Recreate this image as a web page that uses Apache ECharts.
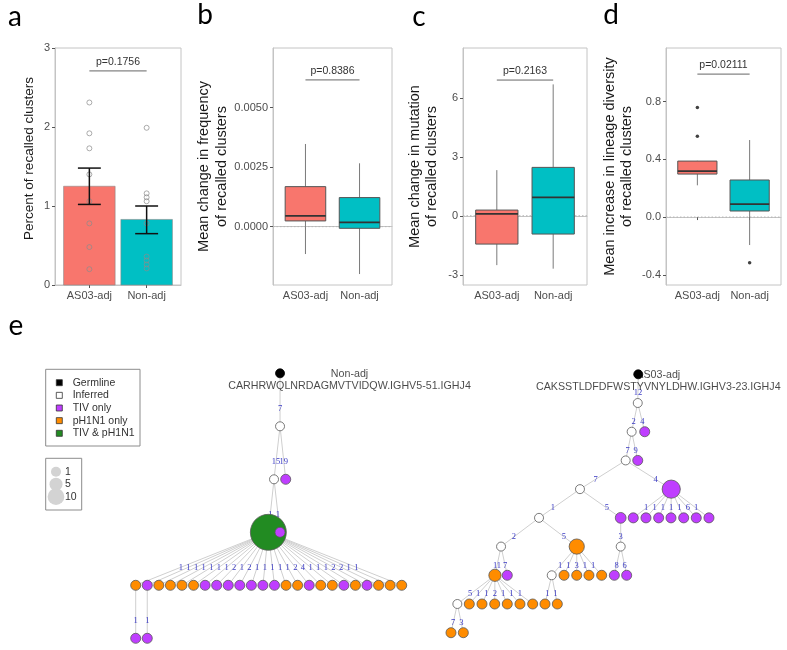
<!DOCTYPE html>
<html><head><meta charset="utf-8">
<script src="https://cdn.jsdelivr.net/npm/echarts@6/dist/echarts.min.js"></script>
<style>html,body{margin:0;padding:0;background:#fff}#c{width:787px;height:650px}</style>
</head><body><div id="c"></div>
<script>
// ---------- shared ----------
const groups = ['AS03-adj', 'Non-adj'];
const groupPos = [1, 2];
// ---------- panel a ----------
const aMeans = [1.25, 0.83];
const aErrLow = [1.02, 0.65];
const aErrHigh = [1.48, 1.00];
const aPtsAS03 = [2.31, 1.92, 1.73, 1.40, 1.06, 0.78, 0.48, 0.20];
const aPtsNon = [1.99, 1.16, 1.11, 1.06, 0.78, 0.36, 0.31, 0.26, 0.21];
const aTicks = [0, 1, 2, 3];
const aPText = 'p=0.1756', aPY = 2.71;
// ---------- panel b ----------  [min, q1, median, q3, max]
const bAS03 = [-0.00115, 0.00024, 0.00045, 0.00168, 0.00347];
const bNon = [-0.00199, -0.00007, 0.00018, 0.00122, 0.00266];
const bTicks = [0, 0.0025, 0.005];
const bPText = 'p=0.8386', bPY = 0.00616;
// ---------- panel c ----------
const cAS03 = [-2.51, -1.44, 0.10, 0.29, 2.32];
const cNon = [-2.69, -0.93, 0.94, 2.46, 6.68];
const cTicks = [-3, 0, 3, 6];
const cPText = 'p=0.2163', cPY = 6.9;
// ---------- panel d ----------
const dAS03 = [0.22, 0.298, 0.319, 0.388, 0.39];
const dNon = [-0.194, 0.042, 0.090, 0.257, 0.534];
const dOutAS03 = [0.76, 0.56];
const dOutNon = [-0.317];
const dTicks = [-0.4, 0, 0.4, 0.8];
const dPText = 'p=0.02111', dPY = 0.991;
// ---------- panel e : Non-adj tree ----------
const nonTitle = 'Non-adj';
const nonSeq = 'CARHRWQLNRDAGMVTVIDQW.IGHV5-51.IGHJ4';
const nonX = [12.48, 12.48, 11.96, 12.97, 11.47, 12.48,
  0, 1, 2, 3, 4, 5, 6, 7, 8, 9, 10, 11, 12, 13, 14, 15, 16, 17, 18, 19, 20, 21, 22, 23,
  0, 1];
const nonDepth = [0, 1, 2, 2, 3, 3,
  4, 4, 4, 4, 4, 4, 4, 4, 4, 4, 4, 4, 4, 4, 4, 4, 4, 4, 4, 4, 4, 4, 4, 4,
  5, 5];
const nonParent = [-1, 0, 1, 1, 2, 2,
  4, 4, 4, 4, 4, 4, 4, 4, 4, 4, 4, 4, 4, 4, 4, 4, 4, 4, 4, 4, 4, 4, 4, 4,
  6, 7];
const nonType = ['G', 'I', 'I', 'T', 'B', 'T',
  'P', 'T', 'P', 'P', 'P', 'P', 'T', 'T', 'T', 'T', 'T', 'T', 'T', 'P', 'P', 'T', 'P', 'P', 'T', 'P', 'T', 'P', 'P', 'P',
  'T', 'T'];
const nonCount = [0, 0, 0, 1, 36, 1,
  1, 1, 1, 1, 1, 1, 1, 1, 1, 1, 1, 1, 1, 1, 1, 1, 1, 1, 1, 1, 1, 1, 1, 1,
  1, 1];
const nonEdge = ['', '7', '15', '19', '1', '1',
  '1', '1', '1', '1', '1', '1', '1', '2', '1', '2', '1', '1', '1', '1', '1', '2', '4', '1', '1', '1', '2', '2', '1', '1',
  '1', '1'];
// ---------- panel e : AS03-adj tree ----------
const asTitle = 'AS03-adj';
const asSeq = 'CAKSSTLDFDFWSTYVNYLDHW.IGHV3-23.IGHJ4';
const asX = [15.04, 15.0, 14.51, 15.56, 14.03, 15.0, 10.36, 17.69, 7.07, 13.63,
  14.64, 15.66, 16.68, 17.67, 18.69, 19.70, 20.72,
  4.02, 10.10, 13.63, 3.53, 4.52, 8.09, 9.08, 10.10, 11.08, 12.10, 13.12, 14.11,
  0.51, 1.47, 2.49, 3.51, 4.52, 5.54, 6.56, 7.55, 8.54, 0, 0.99];
const asDepth = [0, 1, 2, 2, 3, 3, 4, 4, 5, 5,
  5, 5, 5, 5, 5, 5, 5,
  6, 6, 6, 7, 7, 7, 7, 7, 7, 7, 7, 7,
  8, 8, 8, 8, 8, 8, 8, 8, 8, 9, 9];
const asParent = [-1, 0, 1, 1, 2, 2, 4, 4, 6, 6,
  7, 7, 7, 7, 7, 7, 7,
  8, 8, 9, 17, 17, 18, 18, 18, 18, 18, 19, 19,
  20, 20, 20, 20, 20, 20, 20, 22, 22, 29, 29];
const asType = ['G', 'I', 'I', 'T', 'I', 'T', 'I', 'T', 'I', 'T',
  'T', 'T', 'T', 'T', 'T', 'T', 'T',
  'I', 'P', 'I', 'P', 'T', 'I', 'P', 'P', 'P', 'P', 'T', 'T',
  'I', 'P', 'P', 'P', 'P', 'P', 'P', 'P', 'P', 'P', 'P'];
const asCount = [0, 0, 0, 1, 0, 1, 0, 12, 0, 2,
  1, 1, 1, 1, 1, 1, 1,
  0, 8, 0, 4, 1, 0, 1, 1, 1, 1, 1, 1,
  0, 1, 1, 1, 1, 1, 1, 1, 1, 1, 1];
const asEdge = ['', '12', '2', '4', '7', '9', '7', '4', '1', '5',
  '1', '1', '1', '1', '1', '6', '1',
  '2', '5', '3', '11', '7', '1', '1', '3', '1', '1', '8', '6',
  '5', '1', '1', '2', '1', '1', '1', '1', '1', '7', '3'];
// ---------- legends ----------
const legendLabels = ['Germline', 'Inferred', 'TIV only', 'pH1N1 only', 'TIV & pH1N1'];
const legendTypes = ['G', 'I', 'T', 'P', 'B'];
const sizeLegend = [1, 5, 10];

// ================= styles / helpers =================
const groupColors = ['#F8766D', '#00BFC4'];
const typeColors = { G: '#000000', I: '#ffffff', T: '#BF3EFF', P: '#FF8C00', B: '#228B22' };
const FONT = 'Liberation Sans';
function nodeSize(n) { return n > 0 ? 9.3 + 0.74 * n : 9; }

const grids = [
  { left: 55, top: 48, width: 126, height: 237 },
  { left: 273, top: 48, width: 119, height: 237 },
  { left: 463, top: 48, width: 124, height: 237 },
  { left: 666, top: 48, width: 115, height: 237 },
  { left: 135.7, top: 373.3, width: 266, height: 265 },
  { left: 451, top: 374.3, width: 261.45, height: 258.4 }
].map((g, i) => Object.assign(g, i < 4 ? { show: true, borderColor: '#c4c4c4', borderWidth: 1 } : { show: false }));

function catX(gi) {
  return {
    type: 'value', gridIndex: gi, min: 0.4, max: 2.6,
    axisLine: { show: true, lineStyle: { color: '#c4c4c4' } }, splitLine: { show: false },
    axisTick: { show: true, customValues: groupPos, length: 3, lineStyle: { color: '#555' } },
    axisLabel: { customValues: groupPos, formatter: v => groups[Math.round(v) - 1], fontSize: 11, color: '#4d4d4d', margin: 5, fontFamily: FONT }
  };
}
function valY(gi, min, max, ticks, fmt, name, gap, fs, pad) {
  return {
    type: 'value', gridIndex: gi, min, max,
    axisLine: { show: true, lineStyle: { color: '#c4c4c4' } }, splitLine: { show: false },
    axisTick: { show: true, customValues: ticks, length: 3, lineStyle: { color: '#555' } },
    axisLabel: { customValues: ticks, formatter: fmt, fontSize: 11, color: '#4d4d4d', margin: 5, fontFamily: FONT },
    name, nameLocation: 'middle', nameGap: gap,
    nameTextStyle: { fontSize: fs, color: '#1a1a1a', lineHeight: fs + 3, fontFamily: FONT, padding: pad || 0 }
  };
}
function hiddenAxis(gi, min, max, inverse) {
  return { type: 'value', gridIndex: gi, min, max, inverse: !!inverse, show: false, splitLine: { show: false } };
}

function boxRender(params, api) {
  const x = api.value(0);
  const w = api.size([0.75, 0])[0];
  const pMin = api.coord([x, api.value(1)]), pQ1 = api.coord([x, api.value(2)]),
    pMed = api.coord([x, api.value(3)]), pQ3 = api.coord([x, api.value(4)]), pMax = api.coord([x, api.value(5)]);
  const color = groupColors[Math.round(x) - 1];
  return {
    type: 'group', children: [
      { type: 'line', shape: { x1: pMin[0], y1: pMin[1], x2: pQ1[0], y2: pQ1[1] }, style: { stroke: '#7a7a7a', lineWidth: 1 } },
      { type: 'line', shape: { x1: pQ3[0], y1: pQ3[1], x2: pMax[0], y2: pMax[1] }, style: { stroke: '#7a7a7a', lineWidth: 1 } },
      { type: 'rect', shape: { x: pQ1[0] - w / 2, y: pQ3[1], width: w, height: pQ1[1] - pQ3[1] }, style: { fill: color, stroke: '#555', lineWidth: 1 } },
      { type: 'line', shape: { x1: pMed[0] - w / 2, y1: pMed[1], x2: pMed[0] + w / 2, y2: pMed[1] }, style: { stroke: '#333', lineWidth: 1.8 } }
    ]
  };
}
function pRender(text) {
  return function (params, api) {
    const y = api.value(2);
    const p1 = api.coord([api.value(0), y]), p2 = api.coord([api.value(1), y]);
    return {
      type: 'group', children: [
        { type: 'line', shape: { x1: p1[0], y1: p1[1], x2: p2[0], y2: p2[1] }, style: { stroke: '#666', lineWidth: 1 } },
        { type: 'text', style: { text, x: (p1[0] + p2[0]) / 2, y: p1[1] - 3, fill: '#333', fontSize: 10.5, fontFamily: FONT, align: 'center', verticalAlign: 'bottom' } }
      ]
    };
  };
}
function boxSeries(gi, boxes) {
  return { type: 'custom', xAxisIndex: gi, yAxisIndex: gi, renderItem: boxRender, z: 3, data: boxes.map((b, i) => [groupPos[i]].concat(b)) };
}
function pSeries(gi, text, y) {
  return { type: 'custom', xAxisIndex: gi, yAxisIndex: gi, renderItem: pRender(text), z: 4, data: [[1, 2, y]] };
}
function zeroSeries(gi) {
  return { type: 'line', xAxisIndex: gi, yAxisIndex: gi, symbol: 'none', z: 1, data: [[0.4, 0], [2.6, 0]], lineStyle: { type: [1.5, 2], color: '#b5b5b5', width: 1 } };
}
function outlierSeries(gi, arrs) {
  const data = [];
  arrs.forEach((arr, i) => arr.forEach(v => data.push([groupPos[i], v])));
  return { type: 'scatter', xAxisIndex: gi, yAxisIndex: gi, symbolSize: 3.5, itemStyle: { color: '#111' }, z: 5, data };
}

// ---- tree helpers ----
function treeEdges(X, D, P) {
  const out = [];
  P.forEach((p, i) => { if (p >= 0) out.push([X[p], D[p], X[i], D[i], i]); });
  return out;
}
function edgeSeries(gi, X, D, P, labels) {
  const edges = treeEdges(X, D, P);
  return {
    type: 'custom', xAxisIndex: gi, yAxisIndex: gi, z: 2,
    data: edges.map(e => e.slice(0, 4)),
    renderItem: function (params, api) {
      const e = edges[params.dataIndex];
      const p1 = api.coord([e[0], e[1]]), p2 = api.coord([e[2], e[3]]);
      const t = 0.66;
      return {
        type: 'group', children: [
          { type: 'line', shape: { x1: p1[0], y1: p1[1], x2: p2[0], y2: p2[1] }, style: { stroke: '#cfcfcf', lineWidth: 1 } },
          { type: 'text', z2: 10, style: { text: labels[e[4]], x: p1[0] + t * (p2[0] - p1[0]), y: p1[1] + t * (p2[1] - p1[1]), fill: '#3a3ac4', fontSize: 8.5, fontFamily: 'Liberation Serif', align: 'center', verticalAlign: 'middle' } }
        ]
      };
    }
  };
}
function nodeSeries(gi, X, D, T, C) {
  return {
    type: 'scatter', xAxisIndex: gi, yAxisIndex: gi, z: 4,
    itemStyle: { borderColor: '#595959', borderWidth: 0.8, opacity: 1 },
    data: X.map((x, i) => ({ value: [x, D[i]], symbolSize: nodeSize(C[i]), itemStyle: { color: typeColors[T[i]], borderColor: T[i] === 'G' ? '#000' : '#595959' } }))
  };
}
function titleSeries(gi, X, D, title, seq, dx) {
  return {
    type: 'scatter', xAxisIndex: gi, yAxisIndex: gi, z: 3, symbolSize: 1, itemStyle: { color: 'rgba(0,0,0,0)' },
    data: [{ value: [X[0], D[0]], label: { show: true, position: 'inside', offset: [dx, 7], formatter: title + '\n' + seq, align: 'center', fontSize: 10.7, lineHeight: 12.5, color: '#1a1a1a', fontFamily: FONT } }]
  };
}

// ================= option =================
const series = [
  // panel a
  {
    type: 'custom', xAxisIndex: 0, yAxisIndex: 0, z: 2, data: aMeans.map((m, i) => [groupPos[i], m]),
    renderItem: function (params, api) {
      const x = api.value(0);
      const p1 = api.coord([x - 0.45, api.value(1)]), p2 = api.coord([x + 0.45, 0]);
      return { type: 'rect', shape: { x: p1[0], y: p1[1], width: p2[0] - p1[0], height: p2[1] - p1[1] }, style: { fill: groupColors[Math.round(x) - 1], stroke: '#8a8a8a', lineWidth: 0.6 } };
    }
  },
  {
    type: 'scatter', xAxisIndex: 0, yAxisIndex: 0, z: 3, symbol: 'circle', symbolSize: 5,
    itemStyle: { color: 'rgba(0,0,0,0)', borderColor: '#8c8c8c', borderWidth: 0.9 },
    data: aPtsAS03.map(v => [1, v]).concat(aPtsNon.map(v => [2, v]))
  },
  {
    type: 'custom', xAxisIndex: 0, yAxisIndex: 0, z: 4, data: aErrLow.map((l, i) => [groupPos[i], l, aErrHigh[i]]),
    renderItem: function (params, api) {
      const x = api.value(0);
      const lo = api.coord([x, api.value(1)]), hi = api.coord([x, api.value(2)]);
      const hw = api.size([0.2, 0])[0];
      const st = { stroke: '#111', lineWidth: 1.5 };
      return {
        type: 'group', children: [
          { type: 'line', shape: { x1: lo[0], y1: lo[1], x2: hi[0], y2: hi[1] }, style: st },
          { type: 'line', shape: { x1: lo[0] - hw, y1: lo[1], x2: lo[0] + hw, y2: lo[1] }, style: st },
          { type: 'line', shape: { x1: hi[0] - hw, y1: hi[1], x2: hi[0] + hw, y2: hi[1] }, style: st }
        ]
      };
    }
  },
  pSeries(0, aPText, aPY),
  // panel b
  zeroSeries(1), boxSeries(1, [bAS03, bNon]), pSeries(1, bPText, bPY),
  // panel c
  zeroSeries(2), boxSeries(2, [cAS03, cNon]), pSeries(2, cPText, cPY),
  // panel d
  zeroSeries(3), boxSeries(3, [dAS03, dNon]), outlierSeries(3, [dOutAS03, dOutNon]), pSeries(3, dPText, dPY),
  // trees
  edgeSeries(4, nonX, nonDepth, nonParent, nonEdge),
  titleSeries(4, nonX, nonDepth, nonTitle, nonSeq, 69.5),
  nodeSeries(4, nonX, nonDepth, nonType, nonCount),
  edgeSeries(5, asX, asDepth, asParent, asEdge),
  titleSeries(5, asX, asDepth, asTitle, asSeq, 20),
  nodeSeries(5, asX, asDepth, asType, asCount)
];

// legend graphics
const graphic = [];
const letterStyle = { fill: '#000', fontSize: 28, fontFamily: 'Lato', align: 'center', verticalAlign: 'middle' };
[['a', 15, 17], ['b', 205, 15], ['c', 419, 17], ['d', 611, 15], ['e', 16, 326]].forEach(l =>
  graphic.push({ type: 'text', x: l[1], y: l[2], style: Object.assign({ text: l[0] }, letterStyle) }));
graphic.push({ type: 'rect', shape: { x: 45.7, y: 369.3, width: 94.3, height: 76.7 }, style: { fill: '#fff', stroke: '#8c8c8c', lineWidth: 1 } });
legendLabels.forEach((lab, i) => {
  const cy = 382.7 + i * 12.65;
  graphic.push({ type: 'rect', shape: { x: 56.3, y: cy - 3, width: 6, height: 6 }, style: { fill: typeColors[legendTypes[i]], stroke: '#333', lineWidth: 0.8 } });
  graphic.push({ type: 'text', x: 72.7, y: cy, style: { text: lab, fill: '#333', fontSize: 10.5, fontFamily: FONT, verticalAlign: 'middle' } });
});
graphic.push({ type: 'rect', shape: { x: 45.7, y: 458.3, width: 36, height: 51.7 }, style: { fill: '#fff', stroke: '#8c8c8c', lineWidth: 1 } });
sizeLegend.forEach((n, i) => {
  const cy = 471.7 + i * 12.5;
  graphic.push({ type: 'circle', shape: { cx: 56, cy, r: nodeSize(n) / 2 }, style: { fill: '#d3d3d3' } });
  graphic.push({ type: 'text', x: 65, y: cy, style: { text: String(n), fill: '#333', fontSize: 10.5, fontFamily: FONT, verticalAlign: 'middle' } });
});

const option = {
  animation: false,
  textStyle: { fontFamily: FONT },
  grid: grids,
  xAxis: [catX(0), catX(1), catX(2), catX(3), hiddenAxis(4, 0, 23), hiddenAxis(5, 0, 21)],
  yAxis: [
    valY(0, 0, 3, aTicks, v => String(v), 'Percent of recalled clusters', 17, 13.5, [0, 0, 0, 16]),
    valY(1, -0.00245, 0.0075, bTicks, v => v.toFixed(4), 'Mean change in frequency\nof recalled clusters', 40, 14.5),
    valY(2, -3.52, 8.53, cTicks, v => String(v), 'Mean change in mutation\nof recalled clusters', 22, 14.5),
    valY(3, -0.471, 1.172, dTicks, v => v.toFixed(1), 'Mean increase in lineage diversity\nof recalled clusters', 30, 14.5),
    hiddenAxis(4, 0, 5, true),
    hiddenAxis(5, 0, 9, true)
  ],
  series,
  graphic
};
const chart = echarts.init(document.getElementById('c'), null, { renderer: 'canvas' });
chart.setOption(option);
</script>
</body></html>
